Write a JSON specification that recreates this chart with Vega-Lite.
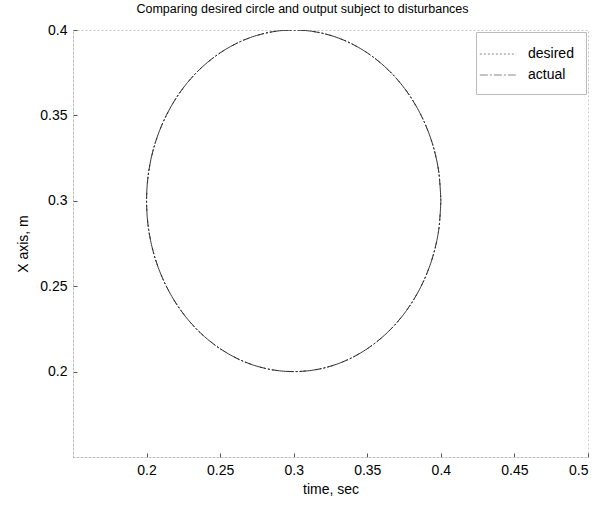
{
  "$schema": "https://vega.github.io/schema/vega-lite/v6.json",
  "autosize": {"type": "none"},
  "padding": {"left": 73, "top": 30, "right": 17, "bottom": 49},
  "width": 515,
  "height": 427,
  "background": "white",
  "config": {
    "font": "Liberation Sans",
    "view": {"stroke": "#c8c8c8", "strokeDash": [2, 2], "strokeWidth": 1},
    "axis": {
      "grid": false,
      "domainColor": "#bbbbbb",
      "domainDash": [2, 2],
      "tickColor": "#555555",
      "tickSize": -4,
      "labelPadding": 10,
      "labelFont": "Liberation Sans",
      "labelFontSize": 14,
      "labelColor": "#000000",
      "titleFont": "Liberation Sans",
      "titleFontSize": 14,
      "titleFontWeight": "normal",
      "titleColor": "#000000"
    }
  },
  "title": {
    "text": "Comparing desired circle and output subject to disturbances",
    "font": "Liberation Sans",
    "fontSize": 12.5,
    "fontWeight": "normal",
    "color": "#000000",
    "anchor": "middle",
    "dx": -28,
    "offset": 8
  },
  "data": {
    "values": [
      {"s": "desired", "o": 0, "x": 0.4, "y": 0.3},
      {"s": "desired", "o": 1, "x": 0.3985, "y": 0.3174},
      {"s": "desired", "o": 2, "x": 0.394, "y": 0.3342},
      {"s": "desired", "o": 3, "x": 0.3866, "y": 0.35},
      {"s": "desired", "o": 4, "x": 0.3766, "y": 0.3643},
      {"s": "desired", "o": 5, "x": 0.3643, "y": 0.3766},
      {"s": "desired", "o": 6, "x": 0.35, "y": 0.3866},
      {"s": "desired", "o": 7, "x": 0.3342, "y": 0.394},
      {"s": "desired", "o": 8, "x": 0.3174, "y": 0.3985},
      {"s": "desired", "o": 9, "x": 0.3, "y": 0.4},
      {"s": "desired", "o": 10, "x": 0.2826, "y": 0.3985},
      {"s": "desired", "o": 11, "x": 0.2658, "y": 0.394},
      {"s": "desired", "o": 12, "x": 0.25, "y": 0.3866},
      {"s": "desired", "o": 13, "x": 0.2357, "y": 0.3766},
      {"s": "desired", "o": 14, "x": 0.2234, "y": 0.3643},
      {"s": "desired", "o": 15, "x": 0.2134, "y": 0.35},
      {"s": "desired", "o": 16, "x": 0.206, "y": 0.3342},
      {"s": "desired", "o": 17, "x": 0.2015, "y": 0.3174},
      {"s": "desired", "o": 18, "x": 0.2, "y": 0.3},
      {"s": "desired", "o": 19, "x": 0.2015, "y": 0.2826},
      {"s": "desired", "o": 20, "x": 0.206, "y": 0.2658},
      {"s": "desired", "o": 21, "x": 0.2134, "y": 0.25},
      {"s": "desired", "o": 22, "x": 0.2234, "y": 0.2357},
      {"s": "desired", "o": 23, "x": 0.2357, "y": 0.2234},
      {"s": "desired", "o": 24, "x": 0.25, "y": 0.2134},
      {"s": "desired", "o": 25, "x": 0.2658, "y": 0.206},
      {"s": "desired", "o": 26, "x": 0.2826, "y": 0.2015},
      {"s": "desired", "o": 27, "x": 0.3, "y": 0.2},
      {"s": "desired", "o": 28, "x": 0.3174, "y": 0.2015},
      {"s": "desired", "o": 29, "x": 0.3342, "y": 0.206},
      {"s": "desired", "o": 30, "x": 0.35, "y": 0.2134},
      {"s": "desired", "o": 31, "x": 0.3643, "y": 0.2234},
      {"s": "desired", "o": 32, "x": 0.3766, "y": 0.2357},
      {"s": "desired", "o": 33, "x": 0.3866, "y": 0.25},
      {"s": "desired", "o": 34, "x": 0.394, "y": 0.2658},
      {"s": "desired", "o": 35, "x": 0.3985, "y": 0.2826},
      {"s": "desired", "o": 36, "x": 0.4, "y": 0.3},
      {"s": "actual", "o": 0, "x": 0.4, "y": 0.3},
      {"s": "actual", "o": 1, "x": 0.3985, "y": 0.3174},
      {"s": "actual", "o": 2, "x": 0.394, "y": 0.3342},
      {"s": "actual", "o": 3, "x": 0.3866, "y": 0.35},
      {"s": "actual", "o": 4, "x": 0.3766, "y": 0.3643},
      {"s": "actual", "o": 5, "x": 0.3643, "y": 0.3766},
      {"s": "actual", "o": 6, "x": 0.35, "y": 0.3866},
      {"s": "actual", "o": 7, "x": 0.3342, "y": 0.394},
      {"s": "actual", "o": 8, "x": 0.3174, "y": 0.3985},
      {"s": "actual", "o": 9, "x": 0.3, "y": 0.4},
      {"s": "actual", "o": 10, "x": 0.2826, "y": 0.3985},
      {"s": "actual", "o": 11, "x": 0.2658, "y": 0.394},
      {"s": "actual", "o": 12, "x": 0.25, "y": 0.3866},
      {"s": "actual", "o": 13, "x": 0.2357, "y": 0.3766},
      {"s": "actual", "o": 14, "x": 0.2234, "y": 0.3643},
      {"s": "actual", "o": 15, "x": 0.2134, "y": 0.35},
      {"s": "actual", "o": 16, "x": 0.206, "y": 0.3342},
      {"s": "actual", "o": 17, "x": 0.2015, "y": 0.3174},
      {"s": "actual", "o": 18, "x": 0.2, "y": 0.3},
      {"s": "actual", "o": 19, "x": 0.2015, "y": 0.2826},
      {"s": "actual", "o": 20, "x": 0.206, "y": 0.2658},
      {"s": "actual", "o": 21, "x": 0.2134, "y": 0.25},
      {"s": "actual", "o": 22, "x": 0.2234, "y": 0.2357},
      {"s": "actual", "o": 23, "x": 0.2357, "y": 0.2234},
      {"s": "actual", "o": 24, "x": 0.25, "y": 0.2134},
      {"s": "actual", "o": 25, "x": 0.2658, "y": 0.206},
      {"s": "actual", "o": 26, "x": 0.2826, "y": 0.2015},
      {"s": "actual", "o": 27, "x": 0.3, "y": 0.2},
      {"s": "actual", "o": 28, "x": 0.3174, "y": 0.2015},
      {"s": "actual", "o": 29, "x": 0.3342, "y": 0.206},
      {"s": "actual", "o": 30, "x": 0.35, "y": 0.2134},
      {"s": "actual", "o": 31, "x": 0.3643, "y": 0.2234},
      {"s": "actual", "o": 32, "x": 0.3766, "y": 0.2357},
      {"s": "actual", "o": 33, "x": 0.3866, "y": 0.25},
      {"s": "actual", "o": 34, "x": 0.394, "y": 0.2658},
      {"s": "actual", "o": 35, "x": 0.3985, "y": 0.2826},
      {"s": "actual", "o": 36, "x": 0.4, "y": 0.3}
    ]
  },
  "mark": {"type": "line", "interpolate": "catmull-rom", "strokeWidth": 1, "clip": true, "color": "#333333"},
  "encoding": {
    "x": {
      "field": "x", "type": "quantitative",
      "scale": {"domain": [0.15, 0.5], "nice": false, "zero": false},
      "axis": {"title": "time, sec", "values": [0.2, 0.25, 0.3, 0.35, 0.4, 0.45, 0.5], "format": "~g", "titlePadding": 5}
    },
    "y": {
      "field": "y", "type": "quantitative",
      "scale": {"domain": [0.15, 0.4], "nice": false, "zero": false},
      "axis": {"title": "X axis, m", "values": [0.2, 0.25, 0.3, 0.35, 0.4], "format": "~g", "titlePadding": 9}
    },
    "order": {"field": "o", "type": "quantitative"},
    "strokeDash": {
      "field": "s", "type": "nominal",
      "scale": {"domain": ["desired", "actual"], "range": [[2, 2], [8, 2, 2, 2]]},
      "legend": {
        "title": null,
        "orient": "top-right",
        "offset": 2,
        "strokeColor": "#bbbbbb",
        "padding": 12,
        "symbolType": "M-2,0H2",
        "symbolSize": 330,
        "symbolStrokeColor": "#888888",
        "symbolStrokeWidth": 1,
        "labelFont": "Liberation Sans",
        "labelFontSize": 14,
        "labelColor": "#000000",
        "rowPadding": 4,
        "labelOffset": 20
      }
    }
  }
}
